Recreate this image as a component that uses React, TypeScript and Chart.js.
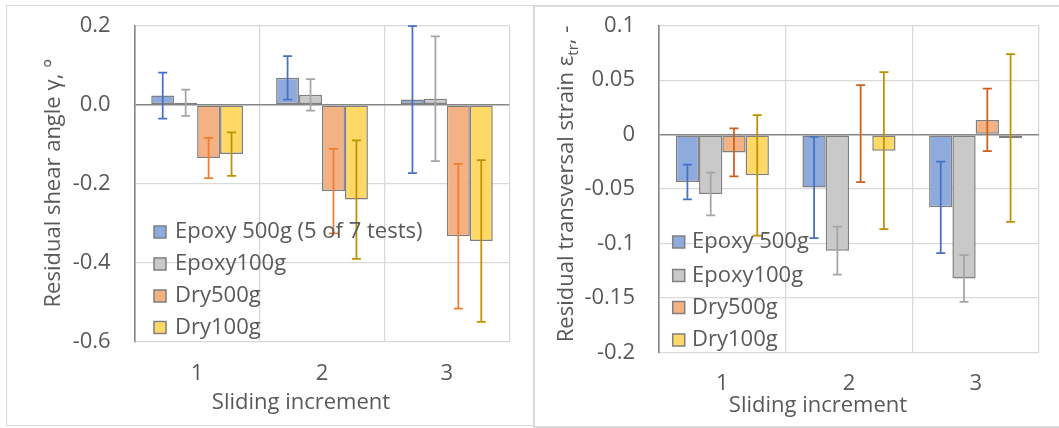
import React, { useEffect, useRef } from "react";
import { Chart, registerables } from "chart.js";

Chart.register(...registerables);

const FONT = "'Open Sans', 'Noto Sans', sans-serif";
const FONT_SIZE = 22;
const SUB_SIZE = 15;
const TEXT = "#595959";
const GRID = "#D9D9D9";
const AXIS = "#868686";
const BAR_EDGE = "#7F7F7F";

const categories = ["1", "2", "3"];

// Fill and error-bar colours per series (Epoxy 500g, Epoxy100g, Dry500g, Dry100g)
const fillColors = ["#8FAADC", "#C9C9C9", "#F4B183", "#FFD966"];
const shearErrColors = ["#4472C4", "#A5A5A5", "#ED7D31", "#BF9000"];
const strainErrColors = ["#4472C4", "#A5A5A5", "#CC5F1A", "#BF9000"];

// Residual shear angle, degrees (mean and ± half-width)
const shearLabels = ["Epoxy 500g (5 of 7 tests)", "Epoxy100g", "Dry500g", "Dry100g"];
const shearEpoxy500 = [0.023, 0.068, 0.013];
const shearEpoxy500Err = [0.058, 0.055, 0.186];
const shearEpoxy100 = [0.005, 0.025, 0.015];
const shearEpoxy100Err = [0.033, 0.04, 0.158];
const shearDry500 = [-0.135, -0.219, -0.333];
const shearDry500Err = [0.051, 0.107, 0.183];
const shearDry100 = [-0.125, -0.24, -0.345];
const shearDry100Err = [0.055, 0.15, 0.205];
const shearTicks = [-0.6, -0.4, -0.2, 0, 0.2];
const shearTickLabels = ["-0.6", "-0.4", "-0.2", "0.0", "0.2"];

// Residual transversal strain, - (mean and ± half-width)
const strainLabels = ["Epoxy 500g", "Epoxy100g", "Dry500g", "Dry100g"];
const strainEpoxy500 = [-0.0435, -0.0485, -0.0667];
const strainEpoxy500Err = [0.016, 0.0465, 0.042];
const strainEpoxy100 = [-0.0545, -0.1065, -0.132];
const strainEpoxy100Err = [0.0197, 0.022, 0.0215];
const strainDry500 = [-0.0163, 0.001, 0.0135];
const strainDry500Err = [0.022, 0.0445, 0.0287];
const strainDry100 = [-0.0373, -0.0147, -0.0032];
const strainDry100Err = [0.0553, 0.072, 0.077];
const strainTicks = [-0.2, -0.15, -0.1, -0.05, 0, 0.05, 0.1];
const strainTickLabels = ["-0.2", "-0.15", "-0.1", "-0.05", "0", "0.05", "0.1"];

type TitlePart = { text: string; sub?: boolean };
type TitleSpec = { parts: TitlePart[]; x: number; y: number; vertical?: boolean };

type PanelSpec = {
  width: number;
  height: number;
  labels: string[];
  values: number[][];
  errors: number[][];
  errColors: string[];
  ticks: number[];
  tickLabels: string[];
  yAxisWidth: number;
  xAxisHeight: number;
  padTop: number;
  padRight: number;
  xTickPadding: number;
  legend: { boxX: number; textX: number; rows: number[] };
  titles: TitleSpec[];
};

function font(size: number) {
  return `${size}px ${FONT}`;
}

function makePlugins(spec: PanelSpec) {
  const errorBars = {
    id: "errorBars",
    afterDatasetsDraw(chart: any) {
      const ctx = chart.ctx;
      const y = chart.scales.y;
      chart.data.datasets.forEach((ds: any, i: number) => {
        const meta = chart.getDatasetMeta(i);
        meta.data.forEach((bar: any, j: number) => {
          const v = ds.data[j];
          const e = spec.errors[i][j];
          const top = y.getPixelForValue(v + e);
          const bot = y.getPixelForValue(v - e);
          const x = bar.x;
          ctx.save();
          ctx.strokeStyle = spec.errColors[i];
          ctx.lineWidth = 1.75;
          ctx.beginPath();
          ctx.moveTo(x, top);
          ctx.lineTo(x, bot);
          ctx.moveTo(x - 4.5, top);
          ctx.lineTo(x + 4.5, top);
          ctx.moveTo(x - 4.5, bot);
          ctx.lineTo(x + 4.5, bot);
          ctx.stroke();
          ctx.restore();
        });
      });
    },
  };

  const insideLegend = {
    id: "insideLegend",
    afterDatasetsDraw(chart: any) {
      const ctx = chart.ctx;
      const box = 12;
      chart.data.datasets.forEach((ds: any, i: number) => {
        const cy = spec.legend.rows[i];
        ctx.save();
        ctx.fillStyle = ds.backgroundColor;
        ctx.fillRect(spec.legend.boxX, cy - box / 2, box, box);
        ctx.strokeStyle = BAR_EDGE;
        ctx.lineWidth = 1.5;
        ctx.strokeRect(spec.legend.boxX, cy - box / 2, box, box);
        ctx.fillStyle = TEXT;
        ctx.font = font(FONT_SIZE);
        ctx.textBaseline = "middle";
        ctx.textAlign = "left";
        ctx.fillText(ds.label, spec.legend.textX, cy);
        ctx.restore();
      });
    },
  };

  const axisTitles = {
    id: "axisTitles",
    afterDraw(chart: any) {
      const ctx = chart.ctx;
      for (const t of spec.titles) {
        ctx.save();
        ctx.translate(t.x, t.y);
        if (t.vertical) ctx.rotate(-Math.PI / 2);
        ctx.fillStyle = TEXT;
        ctx.textBaseline = "alphabetic";
        ctx.textAlign = "left";
        const widths = t.parts.map((p) => {
          ctx.font = font(p.sub ? SUB_SIZE : FONT_SIZE);
          return ctx.measureText(p.text).width;
        });
        let cx = -widths.reduce((a, b) => a + b, 0) / 2;
        t.parts.forEach((p, i) => {
          ctx.font = font(p.sub ? SUB_SIZE : FONT_SIZE);
          ctx.fillText(p.text, cx, p.sub ? 5 : 0);
          cx += widths[i];
        });
        ctx.restore();
      }
    },
  };

  return [errorBars, insideLegend, axisTitles];
}

function buildConfig(spec: PanelSpec): any {
  const isZero = (v: number) => Math.abs(v) < 1e-9;
  return {
    type: "bar",
    data: {
      labels: categories,
      datasets: spec.values.map((vals, i) => ({
        label: spec.labels[i],
        data: vals,
        backgroundColor: fillColors[i],
        borderColor: BAR_EDGE,
        borderWidth: 1.5,
        borderSkipped: false,
        categoryPercentage: 0.735,
        barPercentage: 1.0,
      })),
    },
    options: {
      responsive: false,
      animation: false,
      events: [],
      layout: { padding: { top: spec.padTop, right: spec.padRight, left: 0, bottom: 0 } },
      plugins: { legend: { display: false }, tooltip: { enabled: false } },
      scales: {
        x: {
          offset: true,
          grid: { offset: true, color: GRID, lineWidth: 1.3, drawTicks: false },
          border: { display: false },
          ticks: { color: TEXT, font: { family: FONT, size: FONT_SIZE }, padding: spec.xTickPadding },
          afterFit: (s: any) => {
            s.height = spec.xAxisHeight;
          },
        },
        y: {
          min: spec.ticks[0],
          max: spec.ticks[spec.ticks.length - 1],
          afterBuildTicks: (s: any) => {
            s.ticks = spec.ticks.map((v) => ({ value: v }));
          },
          grid: {
            drawTicks: true,
            tickLength: 24,
            tickColor: "rgba(0,0,0,0)",
            color: (c: any) => (c.tick && isZero(c.tick.value) ? AXIS : GRID),
            lineWidth: (c: any) => (c.tick && isZero(c.tick.value) ? 1.6 : 1.3),
          },
          border: { display: true, color: AXIS, width: 1.6 },
          ticks: {
            color: TEXT,
            font: { family: FONT, size: FONT_SIZE },
            padding: 0,
            callback: (_v: any, idx: number) => spec.tickLabels[idx],
          },
          afterFit: (s: any) => {
            s.width = spec.yAxisWidth;
          },
        },
      },
    },
    plugins: makePlugins(spec),
  };
}

function BarPanel({ spec, left }: { spec: PanelSpec; left: number }) {
  const ref = useRef<HTMLCanvasElement | null>(null);
  useEffect(() => {
    if (!ref.current) return;
    const chart = new Chart(ref.current, buildConfig(spec));
    return () => chart.destroy();
  }, [spec]);
  return (
    <canvas
      ref={ref}
      width={spec.width}
      height={spec.height}
      style={{ position: "absolute", left, top: 0, width: spec.width, height: spec.height }}
    />
  );
}

const shearSpec: PanelSpec = {
  width: 533,
  height: 428,
  labels: shearLabels,
  values: [shearEpoxy500, shearEpoxy100, shearDry500, shearDry100],
  errors: [shearEpoxy500Err, shearEpoxy100Err, shearDry500Err, shearDry100Err],
  errColors: shearErrColors,
  ticks: shearTicks,
  tickLabels: shearTickLabels,
  yAxisWidth: 134.7,
  xAxisHeight: 86.3,
  padTop: 25.7,
  padRight: 23.7,
  xTickPadding: 19,
  legend: { boxX: 154, textX: 175, rows: [232, 264, 296, 327.5] },
  titles: [
    { parts: [{ text: "Residual shear angle \u03B3, \u00B0" }], x: 60, y: 183, vertical: true },
    { parts: [{ text: "Sliding increment" }], x: 301, y: 408.5 },
  ],
};

const strainSpec: PanelSpec = {
  width: 526,
  height: 428,
  labels: strainLabels,
  values: [strainEpoxy500, strainEpoxy100, strainDry500, strainDry100],
  errors: [strainEpoxy500Err, strainEpoxy100Err, strainDry500Err, strainDry100Err],
  errColors: strainErrColors,
  ticks: strainTicks,
  tickLabels: strainTickLabels,
  yAxisWidth: 126,
  xAxisHeight: 75.5,
  padTop: 25.7,
  padRight: 20,
  xTickPadding: 18,
  legend: { boxX: 139.7, textX: 159, rows: [242, 275.5, 307.5, 340] },
  titles: [
    {
      parts: [
        { text: "Residual transversal strain \u03B5" },
        { text: "tr", sub: true },
        { text: ", -" },
      ],
      x: 40,
      y: 184,
      vertical: true,
    },
    { parts: [{ text: "Sliding increment" }], x: 285, y: 412 },
  ],
};

export default function App() {
  return (
    <div
      style={{
        position: "absolute",
        left: 0,
        top: 0,
        width: 1059,
        height: 428,
        background: "#FFFFFF",
        overflow: "hidden",
      }}
    >
      <div
        style={{
          position: "absolute",
          left: 6,
          top: 5,
          width: 528,
          height: 421,
          boxSizing: "border-box",
          border: "1.5px solid #D9D9D9",
        }}
      />
      <div
        style={{
          position: "absolute",
          left: 533,
          top: 5,
          width: 530,
          height: 423,
          boxSizing: "border-box",
          border: "2px solid #D9D9D9",
        }}
      />
      <BarPanel spec={shearSpec} left={0} />
      <BarPanel spec={strainSpec} left={533} />
    </div>
  );
}
